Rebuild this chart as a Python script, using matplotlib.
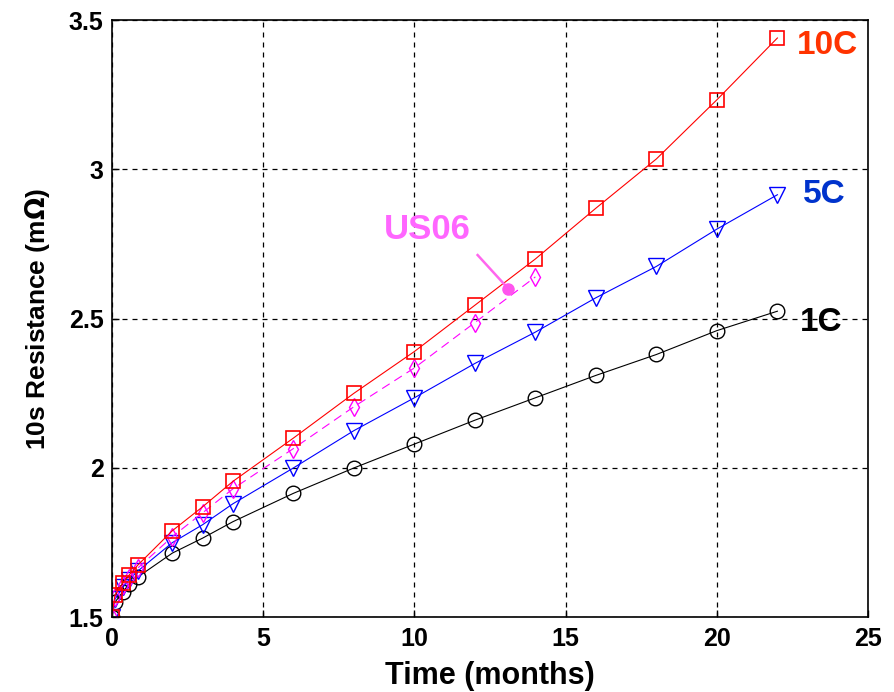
import matplotlib.pyplot as plt

# time points (months)
t_early = [0, 0.1, 0.36, 0.56, 0.86]
t_main = [2, 3, 4, 6, 8, 10, 12, 14, 16, 18, 20, 22]
t_us06 = [2, 3, 4, 6, 8, 10, 12, 14]

# 10s resistance (mOhm)
r_10c = [1.5, 1.574, 1.615, 1.64, 1.675,
         1.79, 1.87, 1.955, 2.10, 2.25, 2.39, 2.545, 2.70, 2.87, 3.035, 3.233, 3.44]
r_5c = [1.5, 1.56, 1.60, 1.625, 1.655,
        1.75, 1.81, 1.88, 2.0, 2.125, 2.235, 2.35, 2.455, 2.57, 2.675, 2.80, 2.915]
r_1c = [1.5, 1.55, 1.585, 1.61, 1.635,
        1.715, 1.765, 1.82, 1.915, 2.0, 2.08, 2.16, 2.235, 2.31, 2.38, 2.46, 2.525]
r_us06 = [1.5, 1.567, 1.607, 1.632, 1.665,
          1.77, 1.85, 1.93, 2.065, 2.205, 2.335, 2.487, 2.64]

plt.rcParams['font.family'] = ['Liberation Sans', 'DejaVu Sans']
plt.rcParams['font.weight'] = 'bold'

fig = plt.figure(figsize=(8.95, 6.92), dpi=100)
ax = fig.add_axes([0.125, 0.108, 0.845, 0.863])

ax.plot(t_early + t_main, r_1c, '-', color='black', lw=0.8,
        marker='o', ms=10.5, mfc='none', mec='black', mew=1)
ax.plot(t_early + t_main, r_5c, '-', color='blue', lw=0.8,
        marker='v', ms=11.5, mfc='none', mec='blue', mew=1)
ax.plot(t_early + t_us06, r_us06, '--', color='magenta', lw=0.8, dashes=(8, 5),
        marker='d', ms=9, mfc='none', mec='magenta', mew=1)
ax.plot(t_early + t_main, r_10c, '-', color='red', lw=0.8,
        marker='s', ms=10.5, mfc='none', mec='red', mew=1.2)

# US06 pointer
ax.plot([12.09, 13.1], [2.713, 2.601], '-', color='#ff66ee', lw=1.8)
ax.plot(13.1, 2.601, 'o', color='#ff55ee', ms=8)
ax.text(9.0, 2.80, 'US06', color='#ff66ff', fontsize=25, fontweight='bold',
        ha='left', va='center')

ax.text(22.65, 3.415, '10C', color='#ff3300', fontsize=24, fontweight='bold', va='center')
ax.text(22.85, 2.915, '5C', color='#0033cc', fontsize=24, fontweight='bold', va='center')
ax.text(22.75, 2.487, '1C', color='black', fontsize=24, fontweight='bold', va='center')

ax.set_xlim(0, 25)
ax.set_ylim(1.5, 3.5)
ax.set_xticks([0, 5, 10, 15, 20, 25])
ax.set_yticks([1.5, 2, 2.5, 3, 3.5])
ax.set_yticklabels(['1.5', '2', '2.5', '3', '3.5'])
ax.tick_params(direction='in', labelsize=18, length=5, width=1)
ax.tick_params(axis='x', pad=7)
ax.tick_params(axis='y', pad=6)
for lbl in ax.get_xticklabels() + ax.get_yticklabels():
    lbl.set_fontweight('bold')
ax.grid(True, color='black', linestyle=(0, (4, 4)), lw=0.9)
for s in ax.spines.values():
    s.set_linewidth(1.2)

ax.set_xlabel('Time (months)', fontsize=22, fontweight='bold', labelpad=7)
ax.set_ylabel('10s Resistance (m$\\Omega$)', fontsize=19, fontweight='bold', labelpad=12)

fig.savefig('out.png', dpi=100)
